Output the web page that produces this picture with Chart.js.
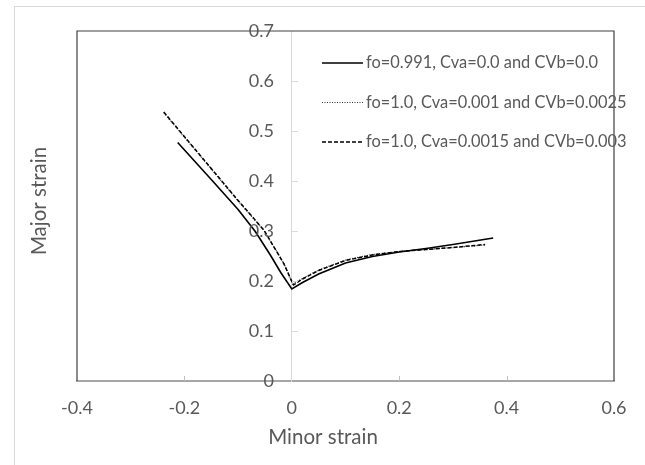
<!DOCTYPE html>
<html>
<head>
<meta charset="utf-8">
<script src="https://cdn.jsdelivr.net/npm/chart.js@4"></script>
<style>
  body { margin: 0; background: #fff; }
  canvas { display: block; }
</style>
</head>
<body>
<canvas id="myCanvas" width="645" height="465"></canvas>
<script>
// values
const seriesLabels = [
   "fo=0.991, Cva=0.0 and CVb=0.0",
   "fo=1.0, Cva=0.001 and CVb=0.0025",
   "fo=1.0, Cva=0.0015 and CVb=0.003"
];

const solidX = [-0.2125, -0.15, -0.1, -0.068, -0.04, -0.02, 0.0, 0.02, 0.05, 0.1, 0.15, 0.2, 0.25, 0.3, 0.375];
const solidY = [0.477, 0.403, 0.343, 0.299, 0.252, 0.216, 0.184, 0.197, 0.214, 0.236, 0.249, 0.258, 0.265, 0.273, 0.286];

const dotX = [-0.238, -0.15, -0.1, -0.052, -0.015, 0.002, 0.02, 0.05, 0.1, 0.15, 0.2, 0.25, 0.3, 0.36];
const dotY = [0.536, 0.424, 0.360, 0.301, 0.236, 0.194, 0.205, 0.222, 0.242, 0.253, 0.259, 0.263, 0.267, 0.272];

const dashX = [-0.2385, -0.15, -0.1, -0.052, -0.015, 0.003, 0.02, 0.05, 0.1, 0.15, 0.2, 0.25, 0.3, 0.36];
const dashY = [0.538, 0.425, 0.361, 0.302, 0.235, 0.192, 0.204, 0.221, 0.241, 0.252, 0.259, 0.263, 0.267, 0.273];

const xMin = -0.4, xMax = 0.6, xStep = 0.2;
const yMin = 0, yMax = 0.7, yStep = 0.1;
const xTitle = "Minor strain";
const yTitle = "Major strain";

const toPoints = (xs, ys) => xs.map((x, i) => ({ x: x, y: ys[i] }));

const textColor = "#595959";
const fontFamily = "Lato, 'Open Sans', sans-serif";
const tickFont = "18px " + fontFamily;

// frame, inner tick marks, y labels at x=0, axis titles and legend
const decorations = {
   id: "decorations",
   beforeDraw(chart) {
      const ctx = chart.ctx;
      ctx.save();
      ctx.fillStyle = "#fff";
      ctx.fillRect(0, 0, chart.width, chart.height);
      ctx.strokeStyle = "#d9d9d9";
      ctx.lineWidth = 1;
      ctx.strokeRect(14.5, 6.5, 640, 470);
      ctx.restore();
   },
   afterDraw(chart) {
      const ctx = chart.ctx;
      const a = chart.chartArea;
      const xs = chart.scales.x;
      const ys = chart.scales.y;
      ctx.save();

      // plot border (left, top, right)
      ctx.strokeStyle = "#404040";
      ctx.lineWidth = 1.2;
      ctx.beginPath();
      ctx.moveTo(a.left, a.bottom);
      ctx.lineTo(a.left, a.top);
      ctx.lineTo(a.right, a.top);
      ctx.lineTo(a.right, a.bottom);
      ctx.stroke();

      // small tick marks pointing inward
      ctx.lineWidth = 1;
      ctx.strokeStyle = "#bfbfbf";
      xs.ticks.forEach(t => {
         if (t.value <= xMin || t.value >= xMax || t.value === 0) return;
         const px = Math.round(xs.getPixelForValue(t.value)) + 0.5;
         ctx.beginPath();
         ctx.moveTo(px, a.bottom);
         ctx.lineTo(px, a.bottom - 5);
         ctx.stroke();
      });
      ctx.strokeStyle = "#d9d9d9";
      const x0 = Math.round(xs.getPixelForValue(0));
      ys.ticks.forEach(t => {
         if (t.value <= yMin || t.value >= yMax) return;
         const py = Math.round(ys.getPixelForValue(t.value)) + 0.5;
         ctx.beginPath();
         ctx.moveTo(x0, py);
         ctx.lineTo(x0 + 6, py);
         ctx.stroke();
      });

      // y tick labels, right aligned left of the x=0 axis
      ctx.fillStyle = textColor;
      ctx.font = tickFont;
      ctx.textAlign = "right";
      ctx.textBaseline = "middle";
      ys.ticks.forEach(t => {
         ctx.fillText(t.label, x0 - 18, ys.getPixelForValue(t.value));
      });

      // axis titles
      ctx.font = "20.5px " + fontFamily;
      ctx.textAlign = "center";
      ctx.fillText(xTitle, 323, 437);
      ctx.translate(39, 201);
      ctx.rotate(-Math.PI / 2);
      ctx.fillText(yTitle, 0, 0);
      ctx.setTransform(1, 0, 0, 1, 0, 0);

      // legend
      const rows = [63, 102.5, 142];
      ctx.font = "16.4px " + fontFamily;
      ctx.textAlign = "left";
      chart.data.datasets.forEach((ds, i) => {
         const y = rows[i];
         ctx.strokeStyle = ds.borderColor;
         ctx.lineWidth = ds.borderWidth;
         ctx.setLineDash(ds.borderDash || []);
         ctx.beginPath();
         ctx.moveTo(322, y);
         ctx.lineTo(363, y);
         ctx.stroke();
         ctx.setLineDash([]);
         ctx.fillStyle = textColor;
         ctx.fillText(ds.label, 366, y);
      });
      ctx.restore();
   }
};

new Chart(document.getElementById("myCanvas").getContext("2d"), {
   type: "scatter",
   data: {
      datasets: [
         {
            label: seriesLabels[0],
            data: toPoints(solidX, solidY),
            borderColor: "#000",
            borderWidth: 1.6,
            borderDash: [],
            order: 1
         },
         {
            label: seriesLabels[1],
            data: toPoints(dotX, dotY),
            borderColor: "#333",
            borderWidth: 1.2,
            borderDash: [1, 1.5],
            order: 3
         },
         {
            label: seriesLabels[2],
            data: toPoints(dashX, dashY),
            borderColor: "#000",
            borderWidth: 1.5,
            borderDash: [4, 2],
            order: 2
         }
      ]
   },
   plugins: [decorations],
   options: {
      responsive: false,
      animation: false,
      devicePixelRatio: 1,
      showLine: true,
      elements: {
         point: { radius: 0, hoverRadius: 0 },
         line: { tension: 0, fill: false }
      },
      layout: { padding: { left: 77, right: 31, top: 31, bottom: 0 } },
      plugins: {
         legend: { display: false },
         tooltip: { enabled: false }
      },
      scales: {
         x: {
            type: "linear",
            position: "bottom",
            min: xMin,
            max: xMax,
            afterFit(scale) { scale.height = 84; },
            ticks: {
               stepSize: xStep,
               autoSkip: false,
               padding: 16,
               color: textColor,
               font: { family: fontFamily, size: 18 }
            },
            grid: { display: true, drawOnChartArea: false, drawTicks: false },
            border: { display: true, color: "#a6a6a6", width: 2 }
         },
         y: {
            type: "linear",
            position: { x: 0 },
            min: yMin,
            max: yMax,
            ticks: {
               stepSize: yStep,
               autoSkip: false,
               display: false
            },
            grid: { display: true, drawOnChartArea: false, drawTicks: false },
            border: { display: true, color: "#d9d9d9", width: 1 }
         }
      }
   }
});
</script>
</body>
</html>
